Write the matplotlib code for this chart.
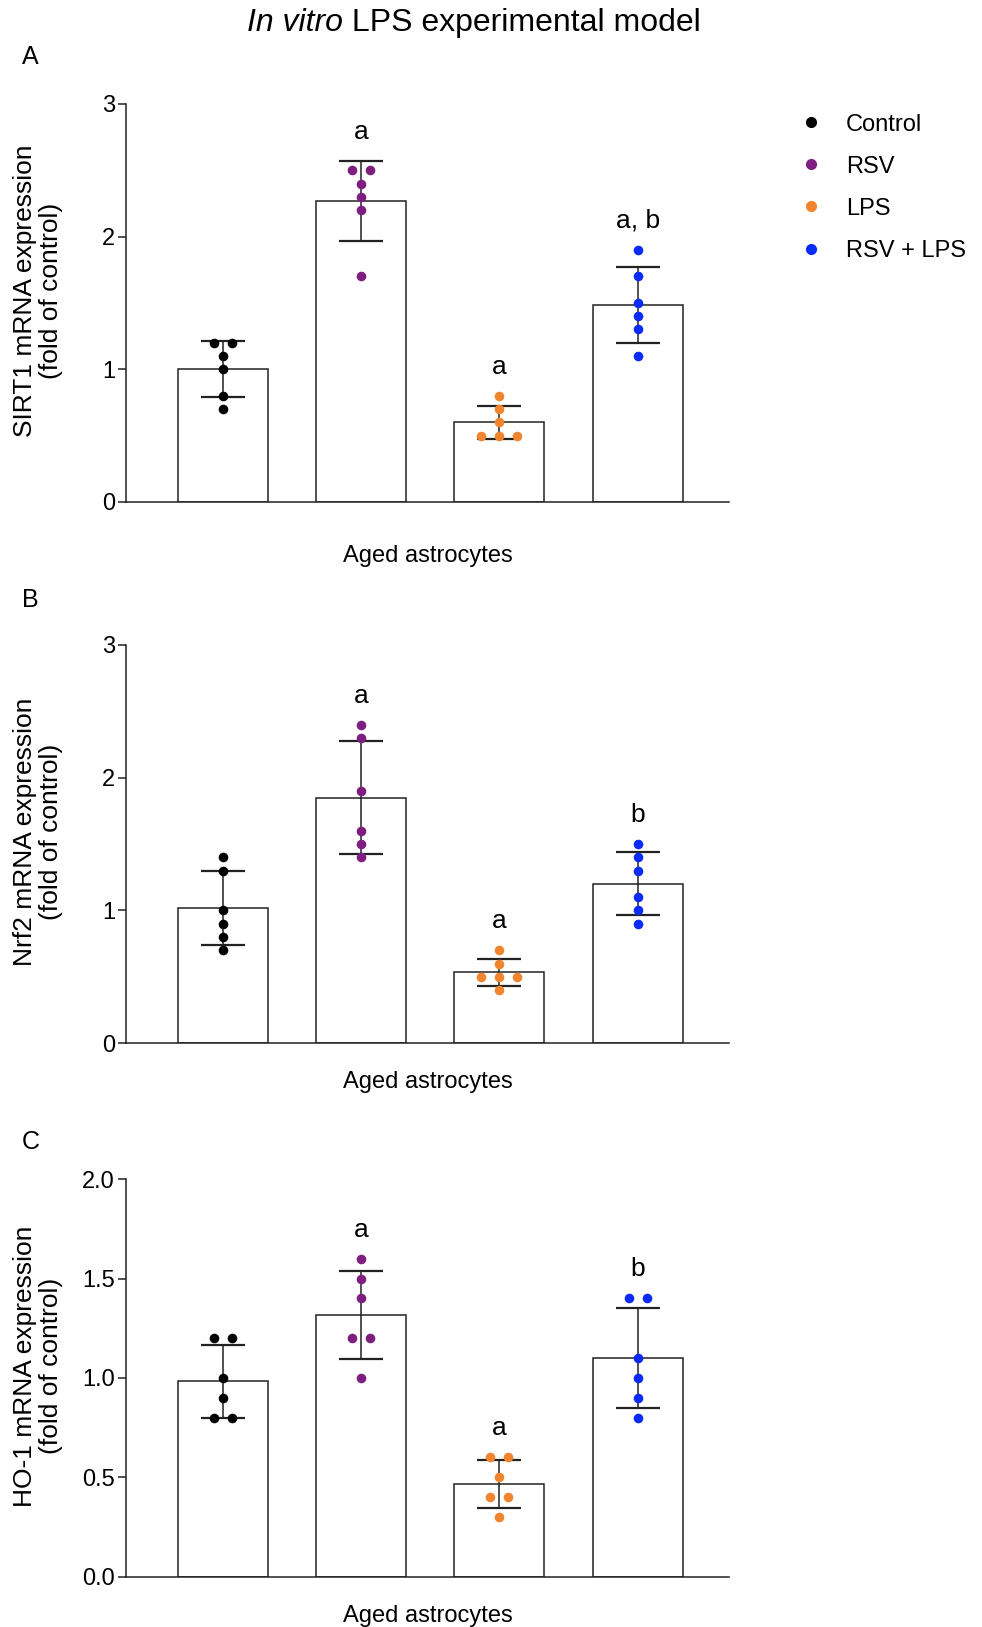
import numpy as np
import matplotlib.pyplot as plt
from matplotlib.lines import Line2D

plt.rcParams['font.family'] = ['Liberation Sans', 'DejaVu Sans']

# ----------------------------
# Data
# ----------------------------
groups = ["Control", "RSV", "LPS", "RSV + LPS"]
colors = ["#000000", "#7E1E80", "#F0852F", "#0A2AF8"]

sirt1 = [
    [1.2, 1.2, 1.1, 1.0, 0.8, 0.7],
    [2.5, 2.5, 2.4, 2.3, 2.2, 1.7],
    [0.8, 0.7, 0.6, 0.5, 0.5, 0.5],
    [1.9, 1.7, 1.5, 1.4, 1.3, 1.1],
]
nrf2 = [
    [1.4, 1.3, 1.0, 0.9, 0.8, 0.7],
    [2.4, 2.3, 1.9, 1.6, 1.5, 1.4],
    [0.7, 0.6, 0.5, 0.5, 0.5, 0.4],
    [1.5, 1.4, 1.3, 1.1, 1.0, 0.9],
]
ho1 = [
    [1.2, 1.2, 1.0, 0.9, 0.8, 0.8],
    [1.6, 1.5, 1.4, 1.2, 1.2, 1.0],
    [0.6, 0.6, 0.5, 0.4, 0.4, 0.3],
    [1.4, 1.4, 1.1, 1.0, 0.9, 0.8],
]

sirt1_sig = ["", "a", "a", "a, b"]
nrf2_sig = ["", "a", "a", "b"]
ho1_sig = ["", "a", "a", "b"]

panels = [
    ("A", sirt1, sirt1_sig, "SIRT1 mRNA expression\n(fold of control)", 3, [0, 1, 2, 3], "{:.0f}"),
    ("B", nrf2, nrf2_sig, "Nrf2 mRNA expression\n(fold of control)", 3, [0, 1, 2, 3], "{:.0f}"),
    ("C", ho1, ho1_sig, "HO-1 mRNA expression\n(fold of control)", 2, [0, 0.5, 1.0, 1.5, 2.0], "{:.1f}"),
]

# axes positions in figure fraction [left, bottom, width, height]
axes_pos = [
    [0.1283, 0.6915, 0.6141, 0.2446],
    [0.1283, 0.3588, 0.6141, 0.2448],
    [0.1283, 0.0309, 0.6141, 0.2443],
]
letter_y = [0.965, 0.631, 0.298]
xlabel_pad = [31, 20, 20]


def spread(vals, step=0.13):
    # simple swarm: put equal values side by side
    vals = np.array(vals)
    offs = np.zeros(len(vals))
    for v in np.unique(vals):
        idx = np.where(vals == v)[0]
        n = len(idx)
        offs[idx] = (np.arange(n) - (n - 1) / 2) * step
    return offs


fig = plt.figure(figsize=(9.82, 16.27), dpi=100)

# title with italic "In vitro"
title_y = 0.986
t1 = fig.text(0.25, title_y, "In vitro", ha="left", va="center", fontsize=23, style="italic")
t2 = fig.text(0.25, title_y, " LPS experimental model", ha="left", va="center", fontsize=23)
fig.canvas.draw()
r = fig.canvas.get_renderer()
w1 = t1.get_window_extent(r).width / fig.bbox.width
w2 = t2.get_window_extent(r).width / fig.bbox.width
x0 = 0.483 - (w1 + w2) / 2
t1.set_x(x0)
t2.set_x(x0 + w1)

for (letter, data, sig, ylab, ymax, yticks, fmt), pos, ly, xp in zip(panels, axes_pos, letter_y, xlabel_pad):
    ax = fig.add_axes(pos)
    x = np.arange(len(groups))
    means = [np.mean(d) for d in data]
    sds = [np.std(d, ddof=1) for d in data]

    ax.bar(x, means, width=0.65, color="white", edgecolor="#222222", linewidth=1.1, zorder=1)
    ax.errorbar(x, means, yerr=sds, fmt="none", ecolor="#222222", elinewidth=1.1,
                capsize=16, capthick=1.6, zorder=2)
    for i, d in enumerate(data):
        ax.scatter(x[i] + spread(d), d, s=48, color=colors[i], zorder=3, linewidths=0)
        top = max(max(d), means[i] + sds[i])
        if sig[i]:
            ax.text(x[i], top + 0.073 * ymax, sig[i], ha="center", va="center", fontsize=19)

    ax.set_xlim(-0.70, 3.66)
    ax.set_ylim(0, ymax)
    ax.set_yticks(yticks)
    ax.set_yticklabels([fmt.format(v) for v in yticks], fontsize=17)
    ax.set_xticks([])
    ax.spines["top"].set_visible(False)
    ax.spines["right"].set_visible(False)
    ax.spines["left"].set_linewidth(1.1)
    ax.spines["bottom"].set_linewidth(1.1)
    ax.spines["left"].set_color("#222222")
    ax.spines["bottom"].set_color("#222222")
    ax.tick_params(axis="y", direction="out", length=6, width=1.1, pad=2, color="#222222")
    ax.set_ylabel(ylab, fontsize=19, linespacing=1.1)
    ax.yaxis.set_label_coords(-0.1045, 0.53)
    ax.set_xlabel("Aged astrocytes", fontsize=17, labelpad=xp)

    fig.text(0.022, ly, letter, fontsize=18, ha="left", va="center")

handles = [Line2D([], [], marker="o", linestyle="none", markersize=7,
                  markerfacecolor=c, markeredgecolor=c) for c in colors]
fig.legend(handles, groups, loc="upper left", bbox_to_anchor=(0.804, 0.936),
           frameon=False, fontsize=17, handletextpad=1.0, labelspacing=0.85,
           handlelength=1.0, borderaxespad=0)

fig.savefig("out.png", dpi=100)
